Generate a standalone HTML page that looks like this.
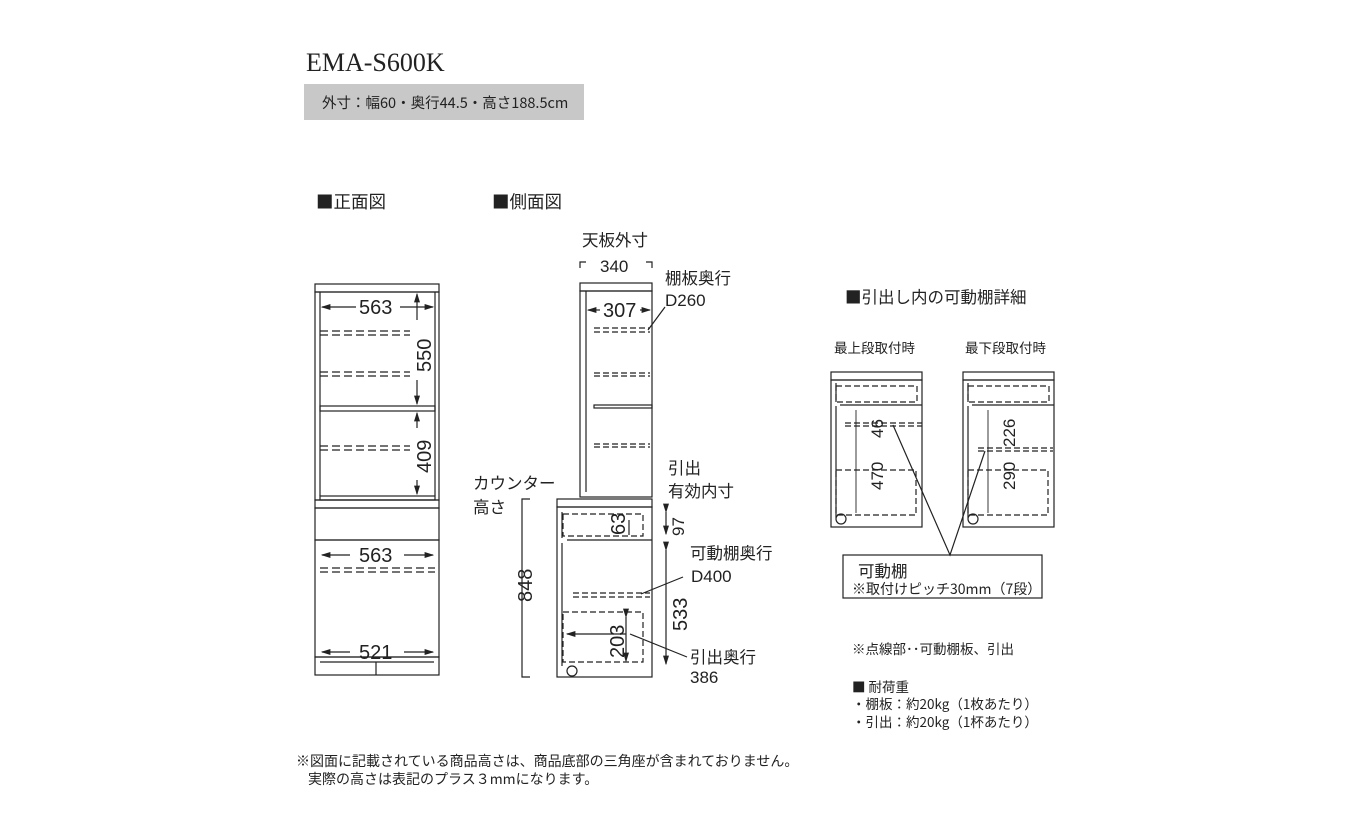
<!DOCTYPE html>
<html><head><meta charset="utf-8"><style>
body{margin:0;background:#fff;}
svg{display:block;}
text{font-family:"Liberation Sans","Noto Sans CJK JP",sans-serif;fill:#222;}
.j{font-family:"Noto Sans CJK JP","Liberation Sans",sans-serif;}
</style></head><body>
<svg width="1360" height="840" viewBox="0 0 1360 840" xmlns="http://www.w3.org/2000/svg">
<defs><marker id="a" markerWidth="8" markerHeight="6" refX="7" refY="3" orient="auto"><path d="M0,0.5 L8,3 L0,5.5Z" fill="#222"/></marker></defs>
<text x="306" y="71" style="font-family:'Liberation Serif',serif;font-size:26px">EMA-S600K</text>
<rect x="304" y="84" width="280" height="36" fill="#c8c8c8"/>
<text x="322" y="108" class="j" font-size="14.5">外寸：幅60・奥行44.5・高さ188.5cm</text>
<text x="316" y="208" class="j" font-size="17.5">■正面図</text>
<text x="492" y="208" class="j" font-size="17.5">■側面図</text>

<g stroke="#222" fill="none" stroke-width="1.2">
<!-- front -->
<rect x="315" y="284" width="124" height="8"/>
<rect x="315" y="292" width="124" height="208"/>
<line x1="320" y1="292" x2="320" y2="496"/><line x1="435" y1="292" x2="435" y2="496"/>
<rect x="320" y="406" width="115" height="5"/>
<rect x="320" y="496" width="115" height="4"/>
<rect x="315" y="500" width="124" height="8"/>
<rect x="315" y="508" width="124" height="32"/>
<rect x="315" y="540" width="124" height="117"/>
<rect x="315" y="657" width="124" height="18"/>
<line x1="320" y1="662" x2="434" y2="662"/><line x1="376" y1="662" x2="376" y2="675"/>
<g stroke-dasharray="8,4"><path d="M320 331H410M320 335H410M320 372H410M320 376H410M320 446H410M320 450H410M320 568H435M320 572H435"/></g>
<line x1="356" y1="307" x2="322" y2="307" marker-end="url(#a)"/><line x1="400" y1="307" x2="433" y2="307" marker-end="url(#a)"/>
<line x1="417" y1="320" x2="417" y2="294" marker-end="url(#a)"/><line x1="417" y1="380" x2="417" y2="404" marker-end="url(#a)"/>
<line x1="417" y1="428" x2="417" y2="413" marker-end="url(#a)"/><line x1="417" y1="480" x2="417" y2="494" marker-end="url(#a)"/>
<line x1="350" y1="555" x2="322" y2="555" marker-end="url(#a)"/><line x1="404" y1="555" x2="433" y2="555" marker-end="url(#a)"/>
<line x1="350" y1="652" x2="322" y2="652" marker-end="url(#a)"/><line x1="404" y1="652" x2="433" y2="652" marker-end="url(#a)"/>
<!-- side -->
<path d="M580 268V262H586M646 262H652V268"/>
<rect x="580" y="283" width="72" height="8"/>
<rect x="580" y="291" width="72" height="206"/>
<line x1="586" y1="291" x2="586" y2="492"/>
<rect x="594" y="405" width="58" height="3"/>
<rect x="557" y="499" width="95" height="8"/>
<rect x="557" y="507" width="95" height="170"/>
<path d="M562 512V538M562 543V666M567 540H652"/>
<rect x="563" y="514" width="80" height="22" stroke-dasharray="6,3"/>
<rect x="563" y="612" width="80" height="50" stroke-dasharray="6,3"/>
<g stroke-dasharray="6,3"><path d="M594 328H650M594 332H650M594 373H650M594 376H650M594 444H650M594 447H650M573 593H650M573 597H650"/></g>
<circle cx="572" cy="671" r="5"/>
<line x1="600" y1="310" x2="588" y2="310" marker-end="url(#a)"/><line x1="640" y1="310" x2="650" y2="310" marker-end="url(#a)"/>
<line x1="648" y1="330" x2="665" y2="307"/><line x1="641" y1="594" x2="683" y2="577"/><line x1="630" y1="634" x2="687" y2="657"/>
<path d="M530 499H522V677H530"/>
<line x1="629" y1="520" x2="629" y2="535"/>
<line x1="666" y1="512" x2="666" y2="534" marker-start="url(#a)" marker-end="url(#a)"/>
<line x1="666" y1="550" x2="666" y2="664" marker-start="url(#a)" marker-end="url(#a)"/>
<line x1="626" y1="617" x2="626" y2="661" marker-start="url(#a)" marker-end="url(#a)"/>
<line x1="626" y1="634" x2="567" y2="634" marker-end="url(#a)"/>
<!-- details -->
<g id="d">
<rect x="831" y="372" width="91" height="8"/>
<rect x="831" y="380" width="91" height="147"/>
<path d="M836 383V402M836 406V518M840 405H922"/>
<rect x="836" y="386" width="81" height="16" stroke-dasharray="6,3"/>
<rect x="836" y="470" width="80" height="45" stroke-dasharray="6,3"/>
<circle cx="841" cy="519" r="5"/>
</g>
<use href="#d" x="132"/>
<g stroke-dasharray="6,3"><path d="M845 423H922M845 426H922M978 448H1053M978 451H1053"/></g>
<line x1="856" y1="410" x2="856" y2="513" stroke-width="0.9"/>
<line x1="988" y1="410" x2="988" y2="513" stroke-width="0.9"/>
<path d="M893 425L950 555L985 451"/>
<rect x="843" y="555" width="199" height="43"/>
</g>
<g font-size="20">
<text x="359" y="314">563</text><text x="359" y="562">563</text><text x="359" y="659">521</text>
<text x="603" y="317">307</text>
<text transform="translate(431,372) rotate(-90)">550</text>
<text transform="translate(431,473) rotate(-90)">409</text>
<text transform="translate(532,602) rotate(-90)">848</text>
<text transform="translate(625,535) rotate(-90)">63</text>
<text transform="translate(687,631) rotate(-90)">533</text>
<text transform="translate(624,658) rotate(-90)">203</text>
</g>
<g font-size="17">
<text x="600" y="272">340</text>
<text transform="translate(684,536) rotate(-90)">97</text>
<text x="665" y="306">D260</text><text x="691" y="582">D400</text><text x="690" y="683">386</text>
</g>
<g font-size="17">
<text transform="translate(883,438) rotate(-90)">46</text>
<text transform="translate(883,490) rotate(-90)">470</text>
<text transform="translate(1015,447) rotate(-90)">226</text>
<text transform="translate(1015,490) rotate(-90)">290</text>
</g>
<g class="j" font-size="16.5">
<text x="582" y="246" class="j">天板外寸</text>
<text x="665" y="284" class="j">棚板奥行</text>
<text x="668" y="474" class="j">引出</text><text x="668" y="497" class="j">有効内寸</text>
<text x="473" y="489" class="j">カウンター</text><text x="473" y="513" class="j">高さ</text>
<text x="690" y="559" class="j">可動棚奥行</text>
<text x="690" y="663" class="j">引出奥行</text>
<text x="845" y="303" class="j">■引出し内の可動棚詳細</text>
<text x="858" y="577" class="j">可動棚</text>
</g>
<g font-size="13.5" class="j">
<text x="834" y="353" class="j">最上段取付時</text>
<text x="965" y="353" class="j">最下段取付時</text>
<text x="852" y="594" class="j" font-size="14">※取付けピッチ30mm（7段）</text>
<text x="852" y="654" class="j">※点線部･･可動棚板、引出</text>
<text x="852" y="692" class="j">■ 耐荷重</text>
<text x="852" y="709" class="j">・棚板：約20kg（1枚あたり）</text>
<text x="852" y="727" class="j">・引出：約20kg（1杯あたり）</text>
<text x="296" y="766" class="j" font-size="14">※図面に記載されている商品高さは、商品底部の三角座が含まれておりません。</text>
<text x="308" y="784" class="j" font-size="14">実際の高さは表記のプラス３mmになります。</text>
</g>
</svg>
</body></html>
